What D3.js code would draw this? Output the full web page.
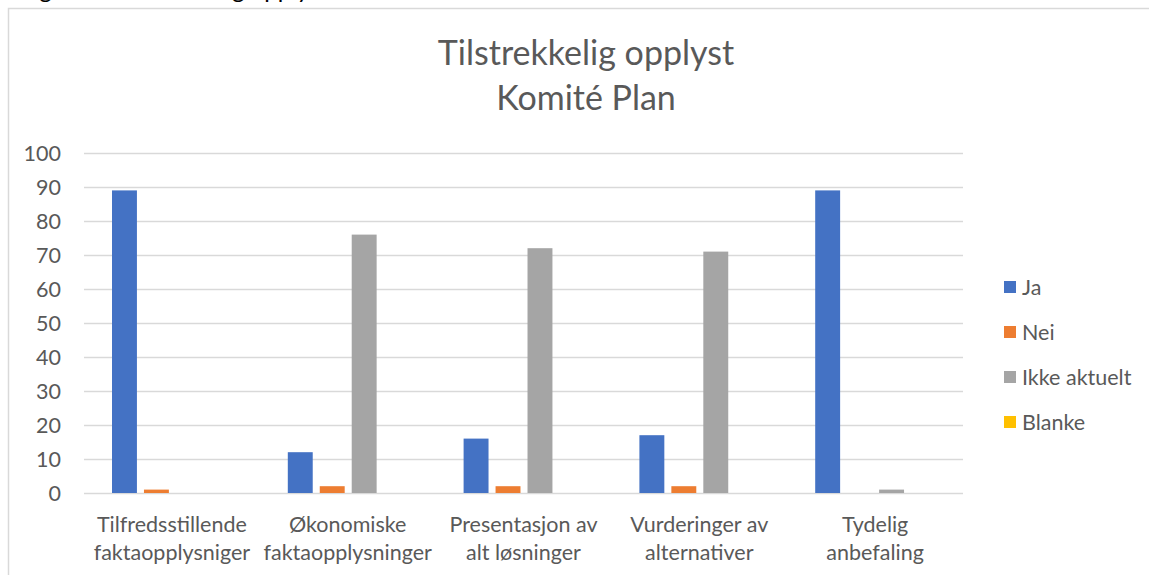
<!DOCTYPE html>
<html>
<head>
<meta charset="utf-8">
<script src="https://cdn.jsdelivr.net/npm/d3@7"></script>
<style>
  body { margin: 0; background: #fff; }
  svg { display: block; }
</style>
</head>
<body>
<div id="chart"></div>
<script>
var categories = [
  ['Tilfredsstillende', 'faktaopplysniger'],
  ['Økonomiske', 'faktaopplysninger'],
  ['Presentasjon av', 'alt løsninger'],
  ['Vurderinger av', 'alternativer'],
  ['Tydelig', 'anbefaling']
];
var seriesNames = ['Ja', 'Nei', 'Ikke aktuelt', 'Blanke'];
var ja = [89, 12, 16, 17, 89];
var nei = [1, 2, 2, 2, 0];
var ikkeAktuelt = [0, 76, 72, 71, 1];
var blanke = [0, 0, 0, 0, 0];
var yTicks = [0, 10, 20, 30, 40, 50, 60, 70, 80, 90, 100];
var colors = ['#4472c4', '#ed7d31', '#a5a5a5', '#ffc000'];

var seriesValues = [ja, nei, ikkeAktuelt, blanke];
var width = 1149, height = 575;
var font = 'Lato, "Open Sans", sans-serif';
var textColor = '#595959';
var labelSize = 21.5;

var svg = d3.select('#chart').append('svg')
  .attr('width', width)
  .attr('height', height);

// caption from the page above, cut off by the crop
svg.append('text')
  .attr('x', 20)
  .attr('y', -2)
  .attr('font-family', font)
  .attr('font-size', 24)
  .attr('fill', '#000')
  .text('Figur 11: Tilstrekkelig opplyst');

// chart area border
svg.append('rect')
  .attr('x', 8.5)
  .attr('y', 8.5)
  .attr('width', width)
  .attr('height', height)
  .attr('fill', 'none')
  .attr('stroke', '#d9d9d9')
  .attr('stroke-width', 1.5);

// title
var title = svg.append('text')
  .attr('text-anchor', 'middle')
  .attr('font-family', font)
  .attr('font-size', 34)
  .attr('fill', textColor);
title.append('tspan').attr('x', 586).attr('y', 65).text('Tilstrekkelig opplyst');
title.append('tspan').attr('x', 586).attr('y', 110).text('Komité Plan');

var x0 = d3.scaleBand()
  .domain(d3.range(categories.length))
  .range([84, 963])
  .paddingInner(0)
  .paddingOuter(0);

var x1 = d3.scaleBand()
  .domain(d3.range(seriesNames.length))
  .range([28, x0.bandwidth() - 27])
  .paddingInner(0.22);

var y = d3.scaleLinear().domain([0, 100]).range([493, 153]);

// gridlines
svg.append('g')
  .selectAll('line')
  .data(yTicks)
  .join('line')
  .attr('x1', 84)
  .attr('x2', 963)
  .attr('y1', function(d) { return y(d) + 0.5; })
  .attr('y2', function(d) { return y(d) + 0.5; })
  .attr('stroke', '#d9d9d9')
  .attr('stroke-width', 1.5);

// y axis labels
svg.append('g')
  .selectAll('text')
  .data(yTicks)
  .join('text')
  .attr('x', 61)
  .attr('y', function(d) { return y(d); })
  .attr('dy', '0.35em')
  .attr('text-anchor', 'end')
  .attr('font-family', font)
  .attr('font-size', labelSize)
  .attr('fill', textColor)
  .text(function(d) { return d; });

// bars
var groups = svg.append('g')
  .selectAll('g')
  .data(categories)
  .join('g')
  .attr('transform', function(d, i) { return 'translate(' + x0(i) + ',0)'; });

groups.selectAll('rect')
  .data(function(d, i) {
    return seriesValues.map(function(vals, s) { return { s: s, v: vals[i] }; });
  })
  .join('rect')
  .attr('x', function(d) { return x1(d.s); })
  .attr('width', x1.bandwidth())
  .attr('y', function(d) { return y(d.v); })
  .attr('height', function(d) { return y(0) - y(d.v); })
  .attr('fill', function(d) { return colors[d.s]; });

// category labels
var catLabels = svg.append('g')
  .selectAll('text')
  .data(categories)
  .join('text')
  .attr('text-anchor', 'middle')
  .attr('font-family', font)
  .attr('font-size', labelSize)
  .attr('fill', textColor);

catLabels.selectAll('tspan')
  .data(function(d, i) { return d.map(function(t) { return { t: t, i: i }; }); })
  .join('tspan')
  .attr('x', function(d) { return x0(d.i) + x0.bandwidth() / 2; })
  .attr('y', function(d, j) { return 532 + j * 28; })
  .text(function(d) { return d.t; });

// legend
var legendY = d3.scalePoint().domain(seriesNames).range([287, 422]);
var legend = svg.append('g')
  .selectAll('g')
  .data(seriesNames)
  .join('g')
  .attr('transform', function(d) { return 'translate(1004,' + legendY(d) + ')'; });

legend.append('rect')
  .attr('x', 0)
  .attr('y', -6)
  .attr('width', 12)
  .attr('height', 12)
  .attr('fill', function(d, i) { return colors[i]; });

legend.append('text')
  .attr('x', 18)
  .attr('dy', '0.35em')
  .attr('font-family', font)
  .attr('font-size', labelSize)
  .attr('fill', textColor)
  .text(function(d) { return d; });
</script>
</body>
</html>
